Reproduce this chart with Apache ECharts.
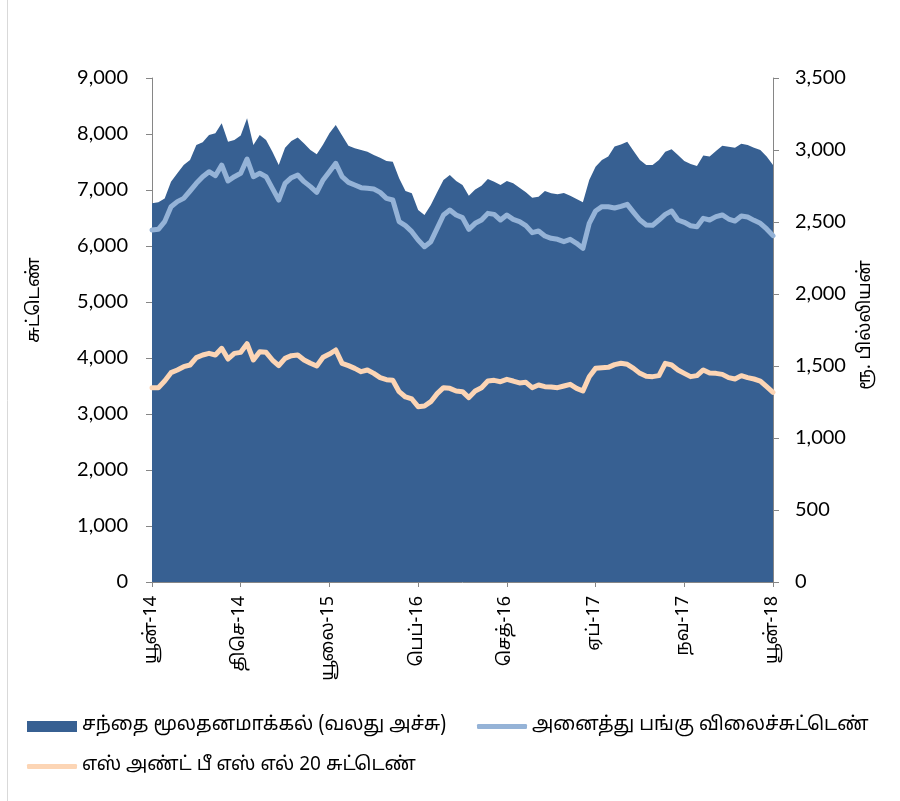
<!DOCTYPE html>
<html>
<head>
<meta charset="utf-8">
<script src="https://cdn.jsdelivr.net/npm/echarts@6/dist/echarts.min.js"></script>
<style>
html,body{margin:0;padding:0;background:#fff;}
#chart{width:900px;height:801px;}
</style>
</head>
<body>
<div id="chart"></div>
<script>
// X tick labels (evenly spaced, every 14th point)
const tickLabels = ['யூன்-14','திசெ-14','யூலை-15','பெப்-16','செத்-16','ஏப்-17','நவ-17','யூன்-18'];
const categories = Array.from({length: 99}, (_, i) => (i % 14 === 0 ? tickLabels[i / 14] : '·' + i));

// Market capitalisation (Rs. billion, right axis)
const marketCap = [
2630,2637,2664,2780,2838,2896,2931,3035,3053,3104,
3116,3185,3058,3069,3100,3220,3035,3104,3069,2988,
2896,3016,3063,3086,3046,3000,2970,3039,3116,3174,
3100,3030,3012,3000,2988,2965,2947,2924,2919,2803,
2715,2699,2583,2549,2618,2706,2792,2826,2785,2757,
2683,2725,2752,2799,2780,2757,2785,2769,2738,2706,
2669,2676,2715,2699,2692,2701,2683,2660,2637,2792,
2884,2931,2954,3025,3039,3058,2993,2931,2896,2896,
2931,2988,3005,2965,2924,2903,2889,2961,2954,2993,
3030,3023,3016,3044,3035,3016,3000,2954,2896
];

// All Share Price Index (left axis)
const aspi = [
6286,6298,6435,6702,6792,6851,6982,7119,7238,7327,
7256,7446,7161,7238,7298,7554,7238,7298,7238,7030,
6821,7119,7220,7268,7149,7060,6958,7179,7327,7476,
7238,7137,7089,7042,7030,7018,6958,6851,6821,6435,
6363,6256,6107,5988,6077,6315,6554,6643,6554,6506,
6298,6405,6464,6583,6565,6464,6554,6476,6435,6363,
6238,6268,6179,6137,6119,6077,6119,6048,5958,6405,
6625,6702,6702,6679,6708,6744,6601,6464,6375,6369,
6464,6565,6625,6464,6423,6363,6345,6494,6464,6524,
6554,6482,6446,6536,6518,6458,6405,6304,6185
];

// S&P SL20 Index (left axis)
const spsl20 = [
3470,3470,3589,3738,3786,3845,3875,4006,4054,4083,
4054,4173,3982,4083,4101,4256,3964,4113,4101,3964,
3863,3994,4042,4054,3964,3905,3857,4012,4071,4143,
3905,3863,3815,3756,3786,3726,3649,3613,3601,3399,
3304,3268,3131,3143,3220,3363,3470,3458,3411,3399,
3292,3411,3470,3589,3601,3577,3619,3589,3554,3565,
3470,3518,3488,3482,3470,3500,3530,3458,3411,3667,
3815,3827,3833,3881,3905,3887,3815,3726,3673,3667,
3685,3905,3875,3786,3726,3667,3685,3786,3732,3726,
3708,3649,3625,3685,3649,3625,3589,3488,3387
];

const names = ['சந்தை மூலதனமாக்கல் (வலது அச்சு)', 'அனைத்து பங்கு விலைச்சுட்டெண்', 'எஸ் அண்ட் பீ எஸ் எல் 20 சுட்டெண்'];
const tamilFont = '"Noto Sans Tamil","Lohit Tamil","Latha","Noto Sans",sans-serif';
const numFont = 'Lato, "Open Sans", sans-serif';
const axisColor = '#868686';

const chart = echarts.init(document.getElementById('chart'), null, {renderer: 'canvas'});
chart.setOption({
  animation: false,
  backgroundColor: '#fff',
  grid: {left: 152, right: 127, top: 78, bottom: 219, containLabel: false},
  xAxis: {
    type: 'category',
    data: categories,
    boundaryGap: false,
    axisLine: {lineStyle: {color: axisColor, width: 1}},
    axisTick: {show: true, interval: 13, length: 5, lineStyle: {color: axisColor}},
    axisLabel: {
      interval: 13, rotate: 90, margin: 14,
      color: '#000', fontSize: 18, fontFamily: tamilFont
    },
    splitLine: {show: false}
  },
  yAxis: [
    {
      type: 'value', min: 0, max: 9000, interval: 1000, position: 'left',
      axisLine: {show: true, lineStyle: {color: axisColor}},
      axisTick: {show: true, length: 6, lineStyle: {color: axisColor}},
      axisLabel: {margin: 24, color: '#000', fontSize: 20, fontFamily: numFont,
        formatter: v => v.toLocaleString('en-US')},
      splitLine: {show: false}
    },
    {
      type: 'value', min: 0, max: 3500, interval: 500, position: 'right',
      axisLine: {show: true, lineStyle: {color: axisColor}},
      axisTick: {show: true, length: 6, lineStyle: {color: axisColor}},
      axisLabel: {margin: 22, color: '#000', fontSize: 20, fontFamily: numFont,
        formatter: v => v.toLocaleString('en-US')},
      splitLine: {show: false}
    }
  ],
  legend: [
    {data: [{name: names[0], icon: 'rect'}], left: 22, top: 712, itemWidth: 50, itemHeight: 11,
     textStyle: {fontSize: 19, fontFamily: tamilFont, color: '#000'}},
    {data: [{name: names[1], icon: 'roundRect'}], left: 472, top: 712, itemWidth: 50, itemHeight: 5,
     textStyle: {fontSize: 19, fontFamily: tamilFont, color: '#000'}},
    {data: [{name: names[2], icon: 'roundRect'}], left: 22, top: 752, itemWidth: 50, itemHeight: 5,
     textStyle: {fontSize: 19, fontFamily: tamilFont, color: '#000'}}
  ],
  graphic: [
    {type: 'line', shape: {x1: 7.5, y1: 0, x2: 7.5, y2: 801}, style: {stroke: '#D9D9D9', lineWidth: 1}, silent: true},
    {type: 'text', x: 35, y: 300, rotation: Math.PI / 2,
     style: {text: 'சுட்டெண்', fontSize: 18, fontFamily: tamilFont, fill: '#000', align: 'center', verticalAlign: 'middle'}},
    {type: 'text', x: 866, y: 325, rotation: Math.PI / 2,
     style: {text: 'ரூ. பில்லியன்', fontSize: 18, fontFamily: tamilFont, fill: '#000', align: 'center', verticalAlign: 'middle'}}
  ],
  series: [
    {
      name: names[0], type: 'line', yAxisIndex: 1, data: marketCap,
      symbol: 'none', showSymbol: false,
      lineStyle: {width: 0, color: '#376092'},
      itemStyle: {color: '#376092'},
      areaStyle: {color: '#376092', opacity: 1},
      z: 1
    },
    {
      name: names[1], type: 'line', yAxisIndex: 0, data: aspi,
      symbol: 'none', showSymbol: false,
      lineStyle: {width: 5, color: '#95B3D7', cap: 'round', join: 'round'},
      itemStyle: {color: '#95B3D7'},
      z: 3
    },
    {
      name: names[2], type: 'line', yAxisIndex: 0, data: spsl20,
      symbol: 'none', showSymbol: false,
      lineStyle: {width: 5, color: '#FCD5B5', cap: 'round', join: 'round'},
      itemStyle: {color: '#FCD5B5'},
      z: 3
    }
  ]
});
</script>
</body>
</html>
